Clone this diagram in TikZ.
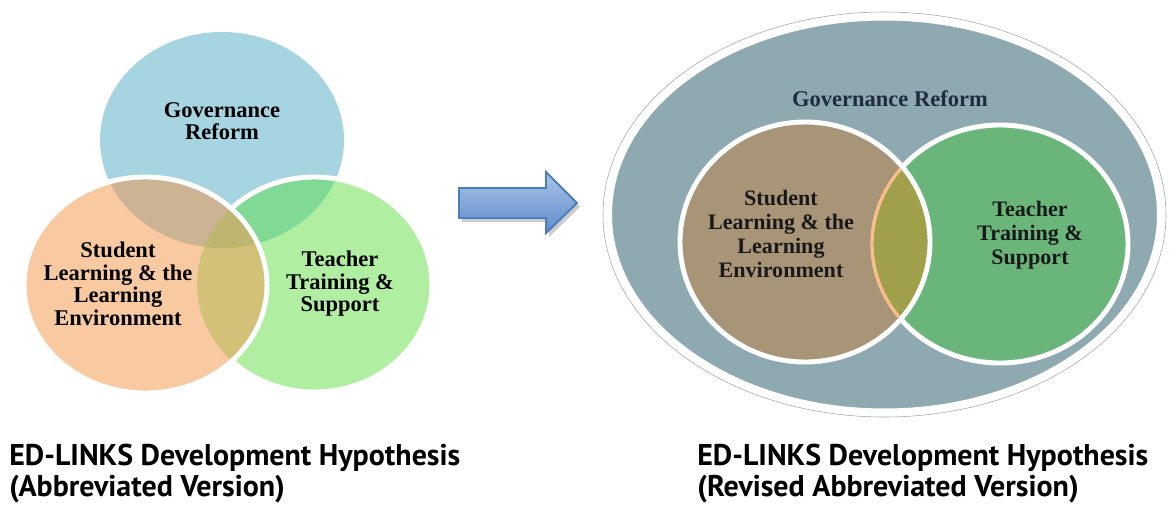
\documentclass[tikz,border=0pt]{standalone}
\usepackage{fontspec}
\setmainfont{Liberation Serif}
\newfontfamily\capfont{PT Sans}
\usepackage{xcolor}
% left diagram fills
\definecolor{govblue}{HTML}{A6D4E1}
\definecolor{stuorange}{HTML}{F9CAA2}
\definecolor{tchgreen}{HTML}{B0EFA2}
\definecolor{govstu}{HTML}{CCB394}
\definecolor{govtch}{HTML}{80DA95}
\definecolor{stutch}{HTML}{D3C178}
\definecolor{alltri}{HTML}{BEB571}
% right diagram fills
\definecolor{govslate}{HTML}{8FA9B1}
\definecolor{stubrown}{HTML}{A89476}
\definecolor{tchdeep}{HTML}{6AB67A}
\definecolor{lensolive}{HTML}{A0A04B}
\definecolor{lenspeach}{HTML}{F5BE8C}
\definecolor{govnavy}{HTML}{1F2B40}
% arrow
\definecolor{arrowtop}{HTML}{AAC4E7}
\definecolor{arrowbot}{HTML}{5E8CCB}
\definecolor{arrowedge}{HTML}{4A7EBB}

% ellipse outlines (pixel units, y down)
\newcommand\govL{(222,140) ellipse (122 and 108)}
\newcommand\stuL{(145.5,285) ellipse (121.5 and 108)}
\newcommand\tchL{(314.5,284.5) ellipse (117.5 and 107.5)}
\newcommand\stuR{(805,242) ellipse (125 and 120)}
\newcommand\tchR{(1000,244) ellipse (128 and 119)}

\begin{document}
\begin{tikzpicture}[
  x = 0.025cm, y = -0.025cm,
  %
  % ── Styles ─────────────────────────────────────────────────────
  vlabel/.style  = {font=\fontsize{16}{16}\selectfont\bfseries,
                    align=center, inner sep=0pt},
  rlabel/.style  = {font=\fontsize{15.7}{17}\selectfont\bfseries,
                    align=center, inner sep=0pt, text=black!90},
  rim/.style     = {draw=white, line width=3.5pt},
  caption/.style = {font=\capfont\bfseries\fontsize{21.3}{22}\selectfont,
                    align=left, inner sep=0pt, anchor=north west},
]
\useasboundingbox (0,0) rectangle (1172,508);

%% ═══════════════════════════════════════════════════════════════════
%% LEFT — three overlapping circles
%% ═══════════════════════════════════════════════════════════════════

\fill[govblue] \govL;

% green circle, with its overlap on blue
\fill[tchgreen] \tchL;
\begin{scope}
  \clip \tchL;
  \fill[govtch] \govL;
\end{scope}
\draw[rim] \tchL;

% orange circle on top, with all its overlaps
\fill[stuorange] \stuL;
\begin{scope}
  \clip \stuL;
  \fill[govstu] \govL;
  \fill[stutch] \tchL;
  \clip \tchL;
  \fill[alltri] \govL;
\end{scope}
\draw[rim] \stuL;

\node[vlabel] (gov-l) at (222,121) {Governance\\Reform};
\node[vlabel] (stu-l) at (118,284) {Student\\Learning \& the\\Learning\\Environment};
\node[vlabel] (tch-l) at (340,284) {Teacher\\Training \&\\Support};

%% ── Block arrow ──────────────────────────────────────────────────
\fill[black!20, shift={(3,4)}]
  (459,188) -- (546,188) -- (546,172) -- (577,203)
  -- (546,233) -- (546,218) -- (459,218) -- cycle;
\shade[top color=arrowtop, bottom color=arrowbot,
       draw=arrowedge, line width=1.4pt, line join=miter]
  (459,188) -- (546,188) -- (546,172) -- (577,203)
  -- (546,233) -- (546,218) -- (459,218) -- cycle;

%% ═══════════════════════════════════════════════════════════════════
%% RIGHT — two circles inside the governance ellipse
%% ═══════════════════════════════════════════════════════════════════

\draw[black!35, line width=0.4pt] (884.5,214.5) ellipse (281.5 and 202.5);
\fill[govslate] (884.5,214.5) ellipse (276 and 197.5);
\draw[white, line width=5pt] (884.5,214.5) ellipse (276 and 197.5);

\fill[tchdeep] \tchR;
\draw[rim] \tchR;
\fill[stubrown] \stuR;
\begin{scope}
  \clip \stuR;
  \fill[lensolive] \tchR;
  \draw[lenspeach, line width=2.4pt] \tchR;
\end{scope}
\draw[rim] \stuR;

\node[vlabel, text=govnavy] (gov-r) at (890,99) {Governance Reform};
\node[rlabel] (stu-r) at (781,234) {Student\\Learning \& the\\Learning\\Environment};
\node[rlabel] (tch-r) at (1030,235) {Teacher\\Training \&\\Support};

%% ── Captions ─────────────────────────────────────────────────────
\node[caption] (cap-l) at (9,444)
  {ED-LINKS Development Hypothesis\\(Abbreviated Version)};
\node[caption] (cap-r) at (697,444)
  {ED-LINKS Development Hypothesis\\(Revised Abbreviated Version)};

\end{tikzpicture}
\end{document}
